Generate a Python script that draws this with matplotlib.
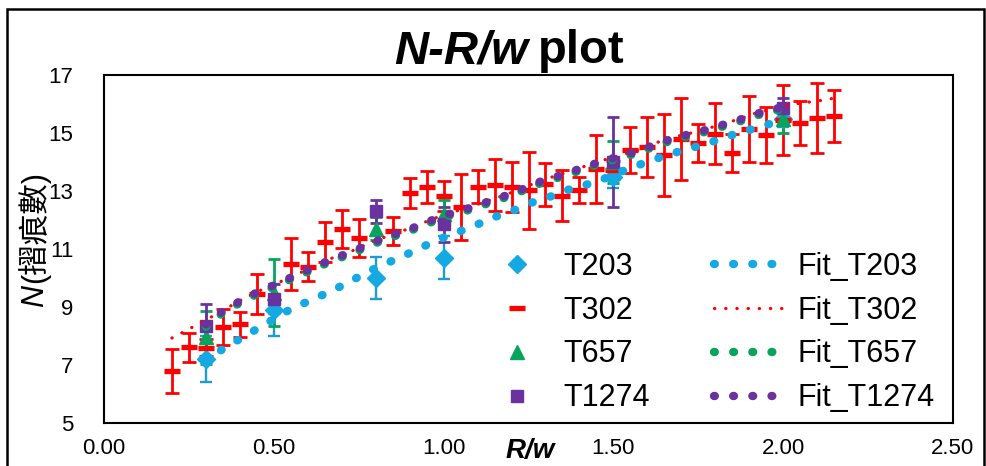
import matplotlib
matplotlib.use("Agg")
import matplotlib.pyplot as plt
from matplotlib.patches import Rectangle

plt.rcParams['font.family'] = ['Liberation Sans', 'Noto Sans CJK TC', 'DejaVu Sans']

# measured points (x = R/w, y = N, e = error half-width)
x203 = [0.30, 0.50, 0.80, 1.00, 1.50, 2.00]
y203 = [7.20, 8.90, 10.00, 10.70, 13.50, 15.50]
e203 = [0.80, 0.90, 0.72, 0.75, 0.40, 0.30]

x302 = [0.20, 0.25, 0.30, 0.35, 0.40, 0.45, 0.55, 0.60, 0.65, 0.70, 0.75, 0.85,
        0.90, 0.95, 1.00, 1.05, 1.10, 1.15, 1.20, 1.25, 1.30, 1.35, 1.40, 1.45,
        1.50, 1.55, 1.60, 1.65, 1.70, 1.75, 1.80, 1.85, 1.90, 1.95, 2.00, 2.05,
        2.10, 2.15]
y302 = [6.79, 7.62, 7.60, 8.31, 8.41, 9.45, 10.48, 10.38, 11.24, 11.69, 11.38, 11.62,
        12.93, 13.14, 12.83, 12.45, 13.14, 13.20, 13.14, 13.03, 13.24, 12.83, 13.03, 13.76,
        13.72, 14.41, 14.52, 14.24, 14.79, 14.66, 14.97, 14.31, 15.14, 14.93, 15.45, 15.34,
        15.52, 15.59]
e302 = [0.75, 0.50, 0.30, 0.63, 0.43, 0.68, 0.90, 0.50, 0.70, 0.64, 0.65, 0.48,
        0.52, 0.55, 0.52, 1.13, 0.57, 0.90, 0.85, 1.33, 0.74, 0.88, 0.45, 1.18,
        0.30, 0.80, 1.03, 1.40, 1.40, 0.66, 1.05, 0.65, 1.15, 0.98, 1.20, 0.75,
        1.22, 0.90]

x657 = [0.30, 0.50, 0.80, 1.00, 1.50, 2.00]
y657 = [7.95, 9.50, 11.70, 12.20, 14.00, 15.50]
e657 = [0.90, 1.15, 0.40, 0.50, 0.74, 0.50]

x1274 = [0.30, 0.50, 0.80, 1.00, 1.50, 2.00]
y1274 = [8.35, 9.28, 12.30, 11.85, 14.00, 15.85]
e1274 = [0.75, 0.50, 0.40, 0.60, 1.55, 0.35]

# fitted curves
fx203 = [0.30, 0.34, 0.40, 0.45, 0.55, 0.61, 0.66, 0.72, 0.77, 0.82, 0.88, 0.93, 0.98,
         1.04, 1.10, 1.15, 1.21, 1.26, 1.32, 1.38, 1.44, 1.50, 1.55, 1.60, 1.66, 1.72,
         1.78, 1.83, 1.89, 1.95, 2.00]
fy203 = [7.10, 7.48, 7.90, 8.24, 8.93, 9.24, 9.50, 9.85, 10.17, 10.45, 10.75, 11.03, 11.30,
         11.57, 11.85, 12.10, 12.35, 12.60, 12.83, 13.10, 13.28, 13.55, 13.80, 14.00, 14.25, 14.45,
         14.65, 14.86, 15.07, 15.28, 15.45]

fx302 = [0.20, 0.25, 0.30, 0.35, 0.40, 0.45, 0.51, 0.56, 0.62, 0.67, 0.73, 0.78, 0.84,
         0.90, 0.95, 1.00, 1.07, 1.13, 1.18, 1.24, 1.29, 1.35, 1.41, 1.46, 1.52, 1.58,
         1.63, 1.69, 1.75, 1.81, 1.87, 1.92, 2.00, 2.05, 2.10, 2.15]
fy302 = [7.93, 8.24, 8.55, 8.88, 9.22, 9.52, 9.82, 10.09, 10.40, 10.68, 10.93, 11.20, 11.47,
         11.71, 11.95, 12.18, 12.42, 12.66, 12.86, 13.13, 13.38, 13.59, 13.83, 14.03, 14.23, 14.43,
         14.68, 14.89, 15.06, 15.27, 15.48, 15.69, 15.93, 16.03, 16.10, 16.20]

fx657 = [0.30, 0.35, 0.40, 0.45, 0.51, 0.56, 0.62, 0.67, 0.73, 0.78, 0.84, 0.90, 0.95,
         1.00, 1.07, 1.13, 1.18, 1.24, 1.29, 1.35, 1.41, 1.46, 1.52, 1.58, 1.63, 1.69,
         1.75, 1.81, 1.87, 1.92, 2.00]
fy657 = [8.32, 8.80, 9.14, 9.44, 9.74, 10.01, 10.31, 10.59, 10.84, 11.11, 11.38, 11.62, 11.86,
         12.09, 12.33, 12.57, 12.77, 13.04, 13.29, 13.50, 13.74, 13.94, 14.14, 14.34, 14.59, 14.80,
         14.97, 15.18, 15.39, 15.60, 15.84]

fx1274 = [0.30, 0.35, 0.40, 0.45, 0.51, 0.56, 0.62, 0.67, 0.73, 0.78, 0.84, 0.90, 0.95,
          1.00, 1.07, 1.13, 1.18, 1.24, 1.29, 1.35, 1.41, 1.46, 1.52, 1.58, 1.63, 1.69,
          1.75, 1.81, 1.87, 1.92, 2.00]
fy1274 = [8.40, 8.86, 9.20, 9.50, 9.80, 10.07, 10.37, 10.65, 10.90, 11.17, 11.44, 11.68, 11.92,
          12.15, 12.39, 12.63, 12.83, 13.10, 13.35, 13.56, 13.80, 14.00, 14.20, 14.40, 14.65, 14.86,
          15.03, 15.24, 15.45, 15.66, 15.90]

c203 = '#14A9E3'
c302 = '#FF0000'
c657 = '#06A45C'
c1274 = '#6A329F'

fig = plt.figure(figsize=(9.87, 4.66), dpi=100)
ax = fig.add_axes([104/987, 1-423/466, (953-104)/987, (423-75)/466])

# error bars
ax.errorbar(x203, y203, yerr=e203, fmt='none', ecolor='#1E9BD6', elinewidth=1.7, capsize=4.5, capthick=1.7, zorder=2)
ax.errorbar(x302, y302, yerr=e302, fmt='none', ecolor=c302, elinewidth=2.0, capsize=4.8, capthick=2.0, zorder=2)
ax.errorbar(x657, y657, yerr=e657, fmt='none', ecolor=c657, elinewidth=2.0, capsize=4.5, capthick=2.0, zorder=2)
ax.errorbar(x1274, y1274, yerr=e1274, fmt='none', ecolor=c1274, elinewidth=2.0, capsize=4.5, capthick=2.0, zorder=2)

# markers
h203, = ax.plot(x203, y203, 'D', ms=9, color=c203, ls='none', label='T203', zorder=3)
h302, = ax.plot(x302, y302, '_', ms=12, mew=3.8, color=c302, ls='none', label='T302', zorder=3)
h657, = ax.plot(x657, y657, '^', ms=10, color=c657, ls='none', label='T657', zorder=3)
h1274, = ax.plot(x1274, y1274, 's', ms=8.5, color=c1274, ls='none', label='T1274', zorder=3)

# trend lines (round-dot style)
f203, = ax.plot(fx203, fy203, color=c203, lw=6, ls=(0, (0.1, 2.2)), dash_capstyle='round', label='Fit_T203', zorder=4)
f302, = ax.plot(fx302, fy302, color=c302, lw=2.3, ls=(0, (0.1, 3.4)), dash_capstyle='round', label='Fit_T302', zorder=4)
f657, = ax.plot(fx657, fy657, color=c657, lw=6, ls=(0, (0.1, 2.2)), dash_capstyle='round', label='Fit_T657', zorder=4)
f1274, = ax.plot(fx1274, fy1274, color=c1274, lw=6, ls=(0, (0.1, 2.2)), dash_capstyle='round', label='Fit_T1274', zorder=4)

ax.set_xlim(0, 2.5)
ax.set_ylim(5, 17)
ax.set_xticks([0, 0.5, 1.0, 1.5, 2.0, 2.5])
ax.set_xticklabels(['0.00', '0.50', '1.00', '1.50', '2.00', '2.50'])
ax.set_yticks([5, 7, 9, 11, 13, 15, 17])
ax.tick_params(axis='both', length=0, labelsize=16)
ax.tick_params(axis='y', pad=22)
ax.tick_params(axis='x', pad=11)
for s in ax.spines.values():
    s.set_linewidth(1.5)

handles = [h203, h302, h657, h1274, f203, f302, f657, f1274]
fig.legend(handles=handles, labels=[h.get_label() for h in handles], ncol=2,
           loc='upper left', bbox_to_anchor=(479/987, 1-252/466), frameon=False,
           fontsize=22, handlelength=2.5, handletextpad=0.25, columnspacing=2.1,
           labelspacing=0.45, borderpad=0, borderaxespad=0)

# title in two pieces: italic bold + bold
fig.text(528/987, 1-63/466, 'N-R/w', ha='right', va='baseline', fontsize=34,
         fontweight='bold', fontstyle='italic')
fig.text(538/987, 1-63/466, 'plot', ha='left', va='baseline', fontsize=34, fontweight='bold')

# axis titles
fig.text(530/987, 1-451/466, 'R/w', ha='center', va='center', fontsize=20,
         fontweight='bold', fontstyle='italic')
fig.text(43/987, 1-285/466, 'N', rotation=90, rotation_mode='anchor', ha='right',
         va='baseline', fontsize=22, fontstyle='italic')
fig.text(43/987, 1-283/466, '(摺痕數)', rotation=90, rotation_mode='anchor', ha='left',
         va='baseline', fontsize=22)

# outer chart border
fig.add_artist(Rectangle((7/987, -0.05), (984-7)/987, (466-9)/466 + 0.05,
                         transform=fig.transFigure, fill=False, lw=1.8, ec='black'))

fig.savefig('out.png', dpi=100)
